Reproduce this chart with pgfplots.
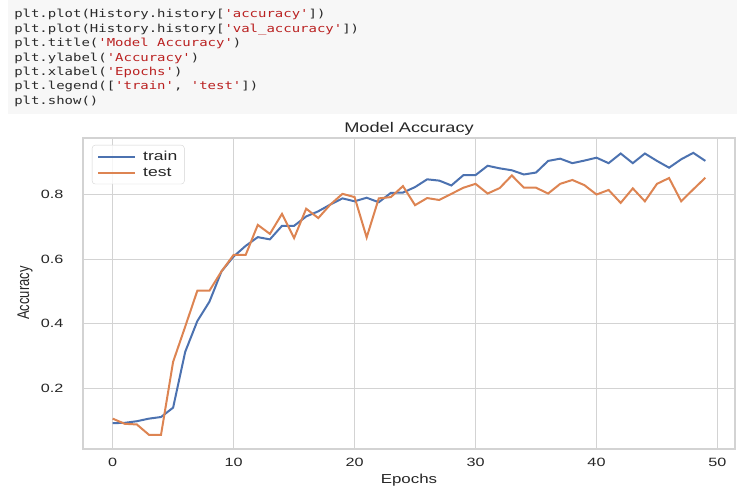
\documentclass[border=0pt]{standalone}
\usepackage{graphicx}
\usepackage{pgfplots}
\pgfplotsset{compat=1.18}
\usepackage{fontspec}
\setmainfont{Liberation Sans}
\newfontfamily\codefont[Ligatures=TeXOff]{DejaVu Sans Mono}
\definecolor{sbblue}{HTML}{4C72B0}
\definecolor{sborange}{HTML}{DD8452}
\definecolor{gridc}{HTML}{D3D3D3}
\definecolor{txt}{HTML}{262626}
\definecolor{codebg}{HTML}{F7F7F7}
\definecolor{codestr}{HTML}{BA2121}
\definecolor{codetxt}{HTML}{2A2A2A}
\newcommand\s[1]{\textcolor{codestr}{#1}}

\pgfplotstableread{
ep train test
0 0.092 0.106
1 0.093 0.090
2 0.098 0.088
3 0.106 0.056
4 0.111 0.056
5 0.140 0.282
6 0.313 0.391
7 0.408 0.502
8 0.468 0.502
9 0.562 0.562
10 0.608 0.613
11 0.641 0.613
12 0.668 0.706
13 0.661 0.678
14 0.703 0.740
15 0.703 0.665
16 0.732 0.756
17 0.748 0.727
18 0.769 0.769
19 0.788 0.802
20 0.779 0.792
21 0.790 0.667
22 0.776 0.788
23 0.805 0.792
24 0.806 0.826
25 0.823 0.767
26 0.847 0.789
27 0.843 0.783
28 0.828 0.802
29 0.860 0.821
30 0.860 0.833
31 0.889 0.803
32 0.881 0.820
33 0.875 0.859
34 0.862 0.821
35 0.868 0.821
36 0.904 0.803
37 0.911 0.833
38 0.897 0.845
39 0.905 0.829
40 0.914 0.800
41 0.897 0.814
42 0.927 0.774
43 0.897 0.819
44 0.927 0.779
45 0.904 0.833
46 0.883 0.851
47 0.909 0.779
48 0.929 0.816
49 0.904 0.852
}\acc

\begin{document}
\begin{tikzpicture}[x=1pt,y=1pt]
\useasboundingbox (0,0) rectangle (737,486);
\fill[codebg] (8,372) rectangle (737,486);
\begin{scope}[every node/.style={anchor=mid west, inner sep=0pt, xscale=1.27, text=codetxt, font=\codefont\fontsize{11}{13}\selectfont}]
\node at (14,471.0) {plt.plot(History.history[\s{'accuracy'}])};
\node at (14,456.5) {plt.plot(History.history[\s{'val\_accuracy'}])};
\node at (14,442.1) {plt.title(\s{'Model Accuracy'})};
\node at (14,427.6) {plt.ylabel(\s{'Accuracy'})};
\node at (14,413.2) {plt.xlabel(\s{'Epochs'})};
\node at (14,398.7) {plt.legend([\s{'train'}, \s{'test'}])};
\node at (14,384.3) {plt.show()};
\end{scope}
\node[font=\fontsize{14}{16}\selectfont, text=txt, xscale=1.3] at (409,357) {Model Accuracy};
\node[font=\fontsize{13}{15}\selectfont, text=txt, xscale=1.3] at (409,6) {Epochs};
\node[font=\fontsize{13}{15}\selectfont, text=txt, rotate=90] at (25,193) {\scalebox{1}[1.3]{Accuracy}};
\begin{axis}[
  at={(83pt,37pt)}, anchor=south west,
  scale only axis, width=652pt, height=311pt,
  xmin=-2.45, xmax=51.45, ymin=0.012, ymax=0.975,
  xtick={0,10,20,30,40,50}, ytick={0.2,0.4,0.6,0.8},
  grid=major, major grid style={gridc, line width=1.1pt},
  axis line style={gridc, line width=1.1pt},
  major tick length=0pt,
  /pgf/number format/assume math mode=true,
  tick label style={font=\fontsize{12}{14}\selectfont, text=txt, xscale=1.35},
  xticklabel style={yshift=-6pt},
  yticklabel style={xshift=-11pt, /pgf/number format/fixed, /pgf/number format/precision=1, /pgf/number format/fixed zerofill},
  legend style={at={(0,1)}, anchor=north west, xshift=9pt, yshift=-7pt,
    draw=gridc, rounded corners=3pt, fill=white, fill opacity=0.8, text opacity=1,
    font=\fontsize{13}{15}\selectfont, text=txt, inner xsep=5pt, inner ysep=4pt,
    row sep=2pt, cells={anchor=west},
    /tikz/every odd column/.append style={column sep=5pt}},
  legend image code/.code={\draw[#1, line width=2pt] (0pt,0pt) -- (37pt,0pt);},
]
\addplot[sbblue, line width=2pt] table[x=ep, y=train] {\acc};
\addlegendentry{\scalebox{1.35}[1]{train}}
\addplot[sborange, line width=2pt] table[x=ep, y=test] {\acc};
\addlegendentry{\scalebox{1.35}[1]{test}}
\end{axis}
\end{tikzpicture}
\end{document}
